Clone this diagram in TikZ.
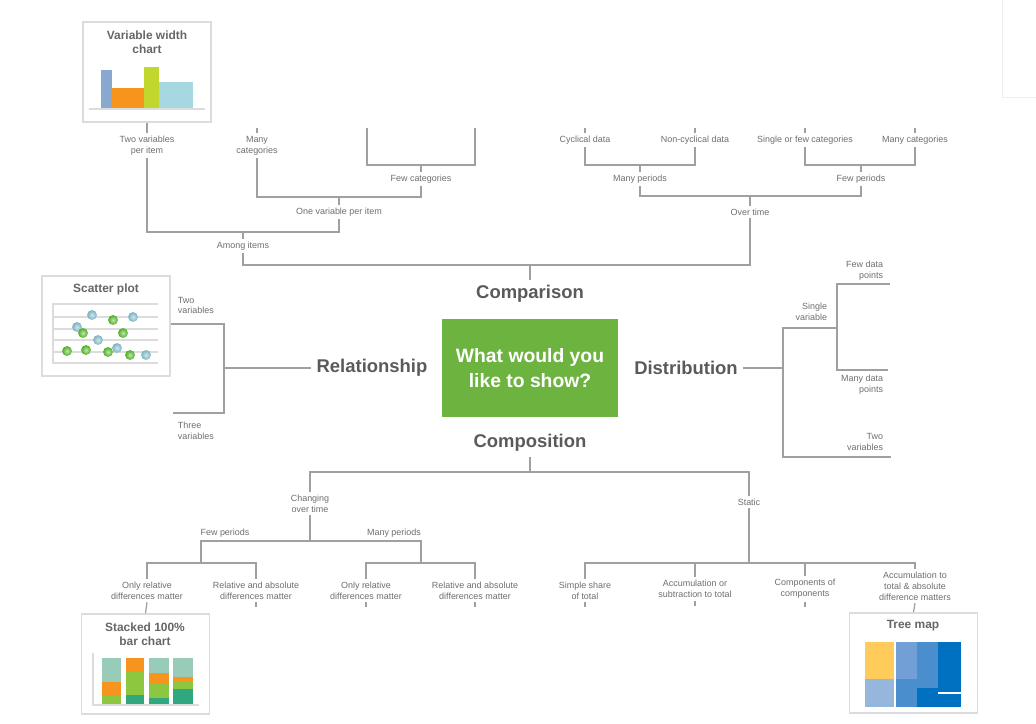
\documentclass[tikz,border=0pt]{standalone}
\usepackage{fontspec}
\setmainfont{Liberation Sans}
\definecolor{cline}{HTML}{A0A0A0}
\definecolor{ctext}{HTML}{6E6E6E}
\definecolor{cdark}{HTML}{5A5A5A}
\definecolor{ctitle}{HTML}{666666}
\definecolor{cbox}{HTML}{DCDCDC}
\definecolor{cgreen}{HTML}{6DB33F}
\definecolor{cvblue}{HTML}{88A8CF}
\definecolor{cvorange}{HTML}{F7941E}
\definecolor{cvlime}{HTML}{C1D72E}
\definecolor{cvcyan}{HTML}{A6D8E1}
\definecolor{cslight}{HTML}{98CCB9}
\definecolor{csgreen}{HTML}{8DC63F}
\definecolor{csdark}{HTML}{30A77F}
\definecolor{cteal}{HTML}{7AB3C2}
\definecolor{cdot}{HTML}{4CAF22}
\definecolor{ctyellow}{HTML}{FFCC5C}
\definecolor{ctlight}{HTML}{97B6DE}
\definecolor{ctmid}{HTML}{729FD6}
\definecolor{ctblue}{HTML}{4A8ECE}
\definecolor{ctdark}{HTML}{0070C0}
\begin{document}
\begin{tikzpicture}[x=0.02cm,y=-0.02cm,
  lbl/.style={font=\fontsize{5.1}{6.2}\selectfont,text=ctext,align=center,inner sep=1.5pt},
  cat/.style={font=\fontsize{10.5}{12}\selectfont\bfseries,text=cdark,inner sep=3pt},
  link/.style={draw=cline,line width=0.7pt},
  icon/.style={draw=cbox,line width=0.9pt,fill=white,minimum width=2.56cm,minimum height=2cm},
  ttl/.style={font=\fontsize{6.8}{8}\selectfont\bfseries,text=ctitle,align=center},
  dot/.style={inner color=#1!35!white,outer color=#1}]
  \useasboundingbox (0,0) rectangle (1036,724);
  \draw[black!6,fill=white] (1002,-5) rectangle (1045,97);

  \node[fill=cgreen,minimum width=3.52cm,minimum height=1.96cm,text=white,align=center,
    font=\fontsize{11}{14.2}\selectfont\bfseries] (q) at (530,368) {What would you\\like to show?};
  \node[cat] (cmp) at (530,294) {Comparison};
  \node[cat] (rel) at (372,368) {Relationship};
  \node[cat] (dst) at (686,368) {Distribution};
  \node[cat] (cps) at (530,443) {Composition};

  % comparison
  \node[lbl] (tvpi) at (147,145.5) {Two variables\\per item};
  \node[lbl] (mcat) at (257,145.5) {Many\\categories};
  \node[lbl] (fcat) at (421,179) {Few categories};
  \node[lbl] (ovpi) at (339,212) {One variable per item};
  \node[lbl] (amg) at (243,246) {Among items};
  \node[lbl] (cyc) at (585,140) {Cyclical data};
  \node[lbl] (ncyc) at (695,140) {Non-cyclical data};
  \node[lbl] (sfc) at (805,140) {Single or few categories};
  \node[lbl] (mcat2) at (915,140) {Many categories};
  \node[lbl] (mper) at (640,179) {Many periods};
  \node[lbl] (fper) at (861,179) {Few periods};
  \node[lbl] (ovt) at (750,212) {Over time};

  \coordinate (fcl) at (367,128);
  \coordinate (fcr) at (475,128);
  \coordinate (jfc) at (421,165);
  \coordinate (jovp) at (339,197);
  \coordinate (jamg) at (243,232);
  \coordinate (jcmp) at (530,265);
  \coordinate (jmp) at (640,165);
  \coordinate (jfp) at (861,165);
  \coordinate (jovt) at (750,196);
  \draw[link] (fcl) |- (jfc) -| (fcr);
  \draw[link] (fcat.north) -- (jfc);
  \draw[link] (mcat.south) |- (jovp) -| (fcat.south);
  \draw[link] (ovpi.north) -- (jovp);
  \draw[link] (tvpi.south) |- (jamg) -| (ovpi.south);
  \draw[link] (amg.north) -- (jamg);
  \draw[link] (amg.south) |- (jcmp) -| (ovt.south);
  \draw[link] (cmp) -- (jcmp);
  \draw[link] (cyc.south) |- (jmp) -| (ncyc.south);
  \draw[link] (mper.north) -- (jmp);
  \draw[link] (sfc.south) |- (jfp) -| (mcat2.south);
  \draw[link] (fper.north) -- (jfp);
  \draw[link] (mper.south) |- (jovt) -| (fper.south);
  \draw[link] (ovt.north) -- (jovt);
  \foreach \n in {mcat,cyc,ncyc,sfc,mcat2}
    \draw[link] (\n.north) -- ++(0,-5);

  \node[icon] (vwc) at (147,72) {};
  \node[ttl] at (147,42) {Variable width\\chart};
  \fill[cvblue] (101,70) rectangle (112,108);
  \fill[cvorange] (112,88) rectangle (144,108);
  \fill[cvlime] (144,67) rectangle (159,108);
  \fill[cvcyan] (159,82) rectangle (193,108);
  \draw[cbox,line width=1pt] (89,109) -- (205,109);
  \draw[link] (vwc.south) -- (tvpi.north);

  % relationship
  \node[lbl,align=left,anchor=west] (twov) at (175,305.5) {Two\\variables};
  \node[lbl,align=left,anchor=west] (thrv) at (175,431) {Three\\variables};
  \node[icon] (sct) at (106,326) {};
  \node[ttl] at (106,289) {Scatter plot};
  \foreach \y in {304,317,329,340,352,363}
    \draw[cbox,line width=0.9pt] (52,\y) -- (158,\y);
  \draw[cbox,line width=0.9pt] (53,304) -- (53,363);
  \foreach \p in {(92,315),(133,317),(77,327),(98,340),(117,348),(146,355)}
    \shade[dot=cteal] \p circle[radius=2.8pt];
  \foreach \p in {(113,320),(83,333),(123,333),(67,351),(86,350),(108,352),(130,355)}
    \shade[dot=cdot] \p circle[radius=2.8pt];
  \coordinate (jrel) at (224,369);
  \coordinate (rtop) at (171,324);
  \coordinate (rbot) at (173,413);
  \draw[link] (rel.west) -- (rel.west -| jrel);
  \draw[link] (rtop) -| (jrel) |- (rbot);

  % distribution
  \node[lbl,align=right,anchor=east] (sgl) at (830,311.5) {Single\\variable};
  \node[lbl,align=right,anchor=east] (fdp) at (886,270.5) {Few data\\points};
  \node[lbl,align=right,anchor=east] (mdp) at (886,385) {Many data\\points};
  \node[lbl,align=right,anchor=east] (twov2) at (886,442) {Two\\variables};
  \coordinate (jdst) at (783,368);
  \coordinate (jsgl) at (837,328);
  \coordinate (dtwo) at (891,457);
  \coordinate (dfew) at (890,284);
  \coordinate (dmny) at (888,370);
  \draw[link] (dst.east) -- (dst.east -| jdst);
  \draw[link] (jsgl) -| (jdst) |- (dtwo);
  \draw[link] (dfew) -| (jsgl) |- (dmny);

  % composition
  \node[lbl] (cot) at (310,503.5) {Changing\\over time};
  \node[lbl] (stc) at (749,502) {Static};
  \node[lbl] at (225,533) {Few periods};
  \node[lbl] at (394,533) {Many periods};
  \node[lbl] (orl1) at (147,590.5) {Only relative\\differences matter};
  \node[lbl] (rab1) at (256,590.5) {Relative and absolute\\differences matter};
  \node[lbl] (orl2) at (366,590.5) {Only relative\\differences matter};
  \node[lbl] (rab2) at (475,590.5) {Relative and absolute\\differences matter};
  \node[lbl] (shr) at (585,590.5) {Simple share\\of total};
  \node[lbl] (acc) at (695,589) {Accumulation or\\subtraction to total};
  \node[lbl] (coc) at (805,589) {Components of\\components};
  \node[lbl] (acd) at (915,586) {Accumulation to\\total \& absolute\\difference matters};

  \coordinate (jcps) at (530,472);
  \coordinate (jcot) at (310,541);
  \coordinate (jfew) at (201,563);
  \coordinate (jmny) at (421,563);
  \coordinate (jstc) at (749,563);
  \draw[link] (cps) -- (jcps);
  \draw[link] (cot.north) |- (jcps) -| (stc.north);
  \draw[link] (cot.south) -- (jcot);
  \draw[link] (jfew) |- (jcot) -| (jmny);
  \draw[link] (orl1.north) |- (jfew) -| (rab1.north);
  \draw[link] (orl2.north) |- (jmny) -| (rab2.north);
  \draw[link] (stc.south) -- (jstc);
  \draw[link] (shr.north) |- (jstc) -| (acd.north);
  \draw[link] (acc.north) -- (acc.north |- jstc);
  \draw[link] (coc.north) -- (coc.north |- jstc);
  \foreach \n in {rab1,orl2,rab2,shr,acc,coc}
    \draw[link] (\n.south) -- ++(0,5);

  \node[icon] (sbc) at (145.5,664) {};
  \node[ttl] at (145,634) {Stacked 100\%\\bar chart};
  \fill[cslight] (102,658) rectangle (121,682);
  \fill[cvorange] (102,682) rectangle (121,696);
  \fill[csgreen] (102,696) rectangle (121,704);
  \fill[cvorange] (126,658) rectangle (144,672);
  \fill[csgreen] (126,672) rectangle (144,695);
  \fill[csdark] (126,695) rectangle (144,704);
  \fill[cslight] (149,658) rectangle (169,673);
  \fill[cvorange] (149,673) rectangle (169,684);
  \fill[csgreen] (149,684) rectangle (169,698);
  \fill[csdark] (149,698) rectangle (169,704);
  \fill[cslight] (173,658) rectangle (193,677);
  \fill[cvorange] (173,677) rectangle (193,681);
  \fill[csgreen] (173,681) rectangle (193,689);
  \fill[csdark] (173,689) rectangle (193,704);
  \draw[cbox,line width=0.9pt] (93,653) -- (93,705) -- (199,705);
  \draw[link] (orl1.south) -- (sbc.north);

  \node[icon] (tmb) at (913.5,663) {};
  \node[ttl] at (913,626) {Tree map};
  \fill[ctyellow] (865,642) rectangle (894,679);
  \fill[ctlight] (865,679) rectangle (894,707);
  \fill[ctmid] (896,642) rectangle (917,679);
  \fill[ctblue] (896,679) rectangle (917,707);
  \fill[ctblue] (917,642) rectangle (938,688);
  \fill[ctdark] (917,688) rectangle (961,707);
  \fill[ctdark] (938,642) rectangle (961,707);
  \draw[white,line width=0.8pt] (938,693) -- (961,693);
  \draw[link] (acd.south) -- (tmb.north);
\end{tikzpicture}
\end{document}
